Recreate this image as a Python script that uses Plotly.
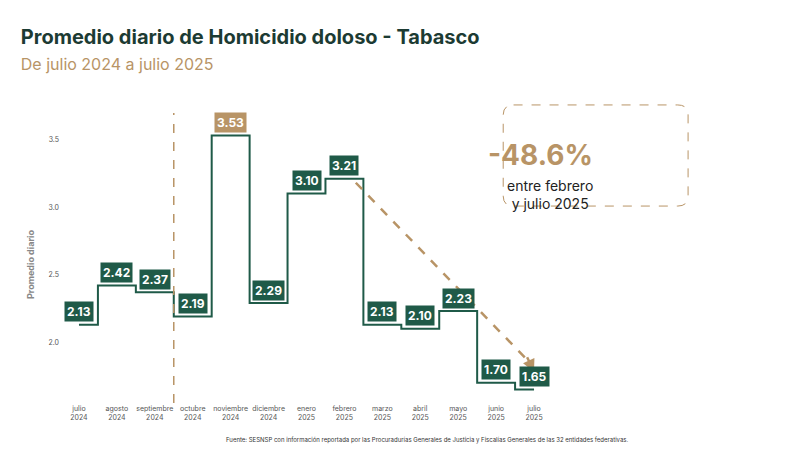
import plotly.graph_objects as go

MONTHS = ["julio<br>2024", "agosto<br>2024", "septiembre<br>2024", "octubre<br>2024",
          "noviembre<br>2024", "diciembre<br>2024", "enero<br>2025", "febrero<br>2025",
          "marzo<br>2025", "abril<br>2025", "mayo<br>2025", "junio<br>2025", "julio<br>2025"]
VALUES = [2.13, 2.42, 2.37, 2.19, 3.53, 2.29, 3.10, 3.21, 2.13, 2.10, 2.23, 1.70, 1.65]
Y_TICKS = [2.0, 2.5, 3.0, 3.5]

GREEN = "#1f5a48"
GOLD = "#b89466"
FONT = "Inter"

x = list(range(len(MONTHS)))
fig = go.Figure()

fig.add_trace(go.Scatter(x=x, y=VALUES, mode="lines", line=dict(color=GREEN, width=2, shape="hvh"),
                         hoverinfo="skip", showlegend=False))

# trend arrow from febrero to julio 2025
fig.add_trace(go.Scatter(x=[7.3, 11.85], y=[3.18, 1.86], mode="lines",
                         line=dict(color=GOLD, width=2.5, dash="dash"), showlegend=False))
fig.add_annotation(x=12.0, y=1.78, ax=11.8, ay=1.9, xref="x", yref="y", axref="x", ayref="y",
                   showarrow=True, arrowhead=2, arrowsize=1, arrowwidth=2.5, arrowcolor=GOLD, text="")

for i, v in enumerate(VALUES):
    fig.add_annotation(x=i, y=v, text=f"<b>{v:.2f}</b>", showarrow=False, yshift=13,
                       font=dict(color="white", size=12, family=FONT),
                       bgcolor=GOLD if v == max(VALUES) else GREEN, borderpad=2)

fig.add_vline(x=2.5, line=dict(color=GOLD, width=1.5, dash="dash"), y0=0, y1=1.047)

# highlighted box
fig.add_shape(type="path", xref="paper", yref="paper",
              path="M 0.92,1.076 L 1.253,1.076 Q 1.274,1.076 1.274,1.04 L 1.274,0.747 Q 1.274,0.711 1.253,0.711 "
                   "L 0.92,0.711 Q 0.899,0.711 0.899,0.747 L 0.899,1.04 Q 0.899,1.076 0.92,1.076 Z",
              line=dict(color=GOLD, width=1, dash="dash"))
fig.add_annotation(x=1.085, y=0.964, xref="paper", yref="paper", text="<b>-48.6%</b>", showarrow=False,
                   font=dict(color=GOLD, size=28, family=FONT))
fig.add_annotation(x=1.085, y=0.823, xref="paper", yref="paper", text="entre febrero<br>y julio 2025",
                   showarrow=False, font=dict(color="#222", size=14, family=FONT))

fig.update_layout(
    width=800, height=452,
    margin=dict(l=52, r=255, t=118, b=57),
    paper_bgcolor="white", plot_bgcolor="white",
    font=dict(family=FONT),
    title=dict(text="<b>Promedio diario de Homicidio doloso - Tabasco</b>"
                    "<br><span style='font-size:16px;color:#b89466'>De julio 2024 a julio 2025</span>",
               x=0.016, xanchor="left", y=0.92, yanchor="top",
               font=dict(size=20, color="#1c3b33", family=FONT)),
    xaxis=dict(range=[-0.5, 12.5], tickvals=x, ticktext=MONTHS, showgrid=False, zeroline=False,
               tickfont=dict(size=7, color="#555"), ticklen=0),
    yaxis=dict(range=[1.55, 3.6], tickvals=Y_TICKS, ticktext=[f"{t:.1f}" for t in Y_TICKS],
               showgrid=False, zeroline=False, tickfont=dict(size=7, color="#555"),
               title=dict(text="<b>Promedio diario</b>", font=dict(size=9, color="#888"), standoff=12)),
)
fig.add_annotation(x=0.5, y=-0.134, xref="paper", yref="paper", yanchor="middle",
                   text="Fuente: SESNSP con información reportada por las Procuradurías Generales de Justicia y Fiscalías Generales de las 32 entidades federativas.",
                   showarrow=False, font=dict(size=6, color="#333"), xshift=120)
fig.add_shape(type="rect", xref="paper", yref="paper", x0=-0.2, x1=1.6, y0=-0.21, y1=-0.177,
              fillcolor=GOLD, line=dict(width=0), layer="below")

fig.write_html("out.html")
